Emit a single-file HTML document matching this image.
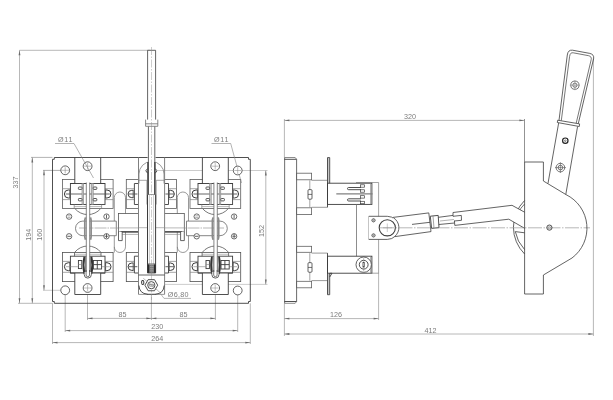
<!DOCTYPE html>
<html lang="en"><head><meta charset="utf-8"><title>Drawing</title>
<style>
html,body{margin:0;padding:0;background:#fff;}
body{width:613px;height:400px;overflow:hidden;}
svg{display:block;font-family:"Liberation Sans",sans-serif;}
svg{filter:grayscale(1);}
</style></head><body>
<svg width="613" height="400" viewBox="0 0 613 400">
<rect x="0" y="0" width="613" height="400" fill="#fff"/>
<line x1="19.50" y1="50.30" x2="150.00" y2="50.30" stroke="#8c8c8c" stroke-width="0.62" />
<line x1="19.50" y1="50.30" x2="19.50" y2="303.30" stroke="#8c8c8c" stroke-width="0.62" />
<path d="M19.50 50.30 L18.60 55.30 L20.40 55.30 Z" fill="#6a6a6a" stroke="none"/>
<path d="M19.50 303.30 L18.60 298.30 L20.40 298.30 Z" fill="#6a6a6a" stroke="none"/>
<line x1="32.30" y1="157.50" x2="32.30" y2="303.30" stroke="#8c8c8c" stroke-width="0.62" />
<path d="M32.30 157.50 L31.40 162.50 L33.20 162.50 Z" fill="#6a6a6a" stroke="none"/>
<path d="M32.30 303.30 L31.40 298.30 L33.20 298.30 Z" fill="#6a6a6a" stroke="none"/>
<line x1="18.00" y1="303.30" x2="52.50" y2="303.30" stroke="#8c8c8c" stroke-width="0.62" />
<line x1="31.00" y1="157.40" x2="52.50" y2="157.40" stroke="#808080" stroke-width="0.6" />
<line x1="44.00" y1="170.30" x2="44.00" y2="290.30" stroke="#8c8c8c" stroke-width="0.62" />
<path d="M44.00 170.30 L43.10 175.30 L44.90 175.30 Z" fill="#6a6a6a" stroke="none"/>
<path d="M44.00 290.30 L43.10 285.30 L44.90 285.30 Z" fill="#6a6a6a" stroke="none"/>
<line x1="43.00" y1="170.40" x2="61.00" y2="170.40" stroke="#777" stroke-width="0.6" />
<line x1="43.00" y1="290.30" x2="61.00" y2="290.30" stroke="#8c8c8c" stroke-width="0.45" />
<text x="17.80" y="182.60" font-size="7.2" fill="#7c7c7c" text-anchor="middle" transform="rotate(-90 17.80 182.60)">337</text>
<text x="30.80" y="234.80" font-size="7.2" fill="#7c7c7c" text-anchor="middle" transform="rotate(-90 30.80 234.80)">194</text>
<text x="42.50" y="234.80" font-size="7.2" fill="#7c7c7c" text-anchor="middle" transform="rotate(-90 42.50 234.80)">160</text>
<line x1="265.80" y1="170.50" x2="265.80" y2="284.40" stroke="#8c8c8c" stroke-width="0.62" />
<path d="M265.80 170.50 L264.90 175.50 L266.70 175.50 Z" fill="#6a6a6a" stroke="none"/>
<path d="M265.80 284.40 L264.90 279.40 L266.70 279.40 Z" fill="#6a6a6a" stroke="none"/>
<line x1="158.00" y1="170.50" x2="267.50" y2="170.50" stroke="#8c8c8c" stroke-width="0.45" />
<line x1="165.00" y1="284.40" x2="267.50" y2="284.40" stroke="#8c8c8c" stroke-width="0.45" />
<text x="264.00" y="231.00" font-size="7.2" fill="#7c7c7c" text-anchor="middle" transform="rotate(-90 264.00 231.00)">152</text>
<line x1="52.50" y1="303.30" x2="52.50" y2="344.00" stroke="#8c8c8c" stroke-width="0.62" />
<line x1="250.30" y1="303.30" x2="250.30" y2="344.00" stroke="#8c8c8c" stroke-width="0.62" />
<line x1="65.20" y1="294.00" x2="65.20" y2="332.00" stroke="#8c8c8c" stroke-width="0.62" />
<line x1="237.70" y1="294.00" x2="237.70" y2="332.00" stroke="#8c8c8c" stroke-width="0.62" />
<line x1="87.50" y1="292.00" x2="87.50" y2="320.00" stroke="#8c8c8c" stroke-width="0.62" />
<line x1="215.40" y1="292.00" x2="215.40" y2="320.00" stroke="#8c8c8c" stroke-width="0.62" />
<line x1="151.40" y1="294.40" x2="151.40" y2="320.00" stroke="#8c8c8c" stroke-width="0.62" />
<line x1="87.50" y1="318.40" x2="215.40" y2="318.40" stroke="#8c8c8c" stroke-width="0.62" />
<path d="M87.50 318.40 L92.50 317.50 L92.50 319.30 Z" fill="#6a6a6a" stroke="none"/>
<path d="M151.40 318.40 L146.40 317.50 L146.40 319.30 Z" fill="#6a6a6a" stroke="none"/>
<path d="M151.40 318.40 L156.40 317.50 L156.40 319.30 Z" fill="#6a6a6a" stroke="none"/>
<path d="M215.40 318.40 L210.40 317.50 L210.40 319.30 Z" fill="#6a6a6a" stroke="none"/>
<line x1="65.20" y1="330.60" x2="237.70" y2="330.60" stroke="#8c8c8c" stroke-width="0.62" />
<path d="M65.20 330.60 L70.20 329.70 L70.20 331.50 Z" fill="#6a6a6a" stroke="none"/>
<path d="M237.70 330.60 L232.70 329.70 L232.70 331.50 Z" fill="#6a6a6a" stroke="none"/>
<line x1="52.50" y1="342.60" x2="250.30" y2="342.60" stroke="#8c8c8c" stroke-width="0.62" />
<path d="M52.50 342.60 L57.50 341.70 L57.50 343.50 Z" fill="#6a6a6a" stroke="none"/>
<path d="M250.30 342.60 L245.30 341.70 L245.30 343.50 Z" fill="#6a6a6a" stroke="none"/>
<text x="122.40" y="317.00" font-size="7.2" fill="#7c7c7c" text-anchor="middle">85</text>
<text x="183.40" y="317.00" font-size="7.2" fill="#7c7c7c" text-anchor="middle">85</text>
<text x="157.30" y="329.20" font-size="7.2" fill="#7c7c7c" text-anchor="middle">230</text>
<text x="157.30" y="341.20" font-size="7.2" fill="#7c7c7c" text-anchor="middle">264</text>
<path d="M54.3 157.5 H248.5 V159.3 H250.3 V301.5 H248.5 V303.3 H54.3 V301.5 H52.5 V159.3 H54.3 Z" fill="none" stroke="#3c3c3c" stroke-width="0.9" stroke-linejoin="miter"/>
<path d="M114.3 252.5 V197.6 A5.6 5.6 0 0 1 125.5 197.6 V246.9 A5.6 5.6 0 0 1 114.3 246.9" fill="none" stroke="#808080" stroke-width="0.8" stroke-linejoin="round" />
<path d="M177.3 252.5 V197.6 A5.6 5.6 0 0 1 188.5 197.6 V246.9 A5.6 5.6 0 0 1 177.3 246.9" fill="none" stroke="#808080" stroke-width="0.8" stroke-linejoin="round" />
<path d="M116.3 221.1 H82.8 A7.3 7.3 0 0 0 82.8 235.7 H116.3 Z" fill="#fff" stroke="#666" stroke-width="0.8" stroke-linejoin="round" />
<path d="M186.5 221.1 H220 A7.3 7.3 0 0 1 220 235.7 H186.5 Z" fill="#fff" stroke="#666" stroke-width="0.8" stroke-linejoin="round" />
<line x1="79.00" y1="228.00" x2="224.00" y2="228.00" stroke="#999" stroke-width="0.7" stroke-dasharray="12 1 1.5 1"/>
<rect x="118.50" y="213.50" width="65.80" height="18.40" rx="0" fill="#fff" stroke="#555" stroke-width="0.8"/>
<line x1="118.50" y1="227.90" x2="184.30" y2="227.90" stroke="#8c8c8c" stroke-width="0.62" />
<line x1="122.20" y1="234.40" x2="180.60" y2="234.40" stroke="#808080" stroke-width="0.6" />
<line x1="120.60" y1="231.90" x2="182.20" y2="231.90" stroke="#3c3c3c" stroke-width="1.3" />
<path d="M118.5 231.9 V240.6 H122.2 V231.9" fill="#fff" stroke="#3c3c3c" stroke-width="0.8" stroke-linejoin="round" />
<path d="M184.3 231.9 V240.6 H180.6 V231.9" fill="#fff" stroke="#3c3c3c" stroke-width="0.8" stroke-linejoin="round" />
<circle cx="69.10" cy="216.60" r="2.70" fill="#fff" stroke="#5a5a5a" stroke-width="0.9"/>
<circle cx="69.10" cy="236.30" r="2.70" fill="#fff" stroke="#5a5a5a" stroke-width="0.9"/>
<circle cx="106.50" cy="216.60" r="2.70" fill="#fff" stroke="#5a5a5a" stroke-width="0.9"/>
<circle cx="106.50" cy="236.30" r="2.70" fill="#fff" stroke="#5a5a5a" stroke-width="0.9"/>
<line x1="67.30" y1="236.30" x2="70.90" y2="236.30" stroke="#3c3c3c" stroke-width="0.8" />
<line x1="67.60" y1="215.80" x2="70.60" y2="215.80" stroke="#808080" stroke-width="0.6" />
<line x1="67.60" y1="217.40" x2="70.60" y2="217.40" stroke="#808080" stroke-width="0.6" />
<line x1="106.50" y1="214.70" x2="106.50" y2="218.50" stroke="#3c3c3c" stroke-width="0.8" />
<line x1="106.50" y1="233.80" x2="106.50" y2="238.10" stroke="#3c3c3c" stroke-width="0.8" />
<line x1="104.70" y1="236.30" x2="108.30" y2="236.30" stroke="#3c3c3c" stroke-width="0.7" />
<path d="M74.85 208.5 A16.8 16.8 0 0 0 100.75 208.5" fill="none" stroke="#555" stroke-width="0.8" stroke-linejoin="round" />
<rect x="62.40" y="179.50" width="50.70" height="29.00" rx="0" fill="#fff" stroke="#5c5c5c" stroke-width="0.8"/>
<line x1="62.40" y1="188.70" x2="70.40" y2="188.70" stroke="#808080" stroke-width="0.7" />
<line x1="105.00" y1="188.70" x2="113.10" y2="188.70" stroke="#808080" stroke-width="0.7" />
<line x1="62.40" y1="199.60" x2="70.40" y2="199.60" stroke="#808080" stroke-width="0.7" />
<line x1="105.00" y1="199.60" x2="113.10" y2="199.60" stroke="#808080" stroke-width="0.7" />
<path d="M70.20 190.0 H68.40 A4 4 0 0 0 68.40 198.0 H70.20" fill="#fff" stroke="#3c3c3c" stroke-width="1.0" stroke-linejoin="round" />
<path d="M105.20 190.0 H107.00 A4 4 0 0 1 107.00 198.0 H105.20" fill="#fff" stroke="#3c3c3c" stroke-width="1.0" stroke-linejoin="round" />
<line x1="69.80" y1="190.20" x2="69.80" y2="197.80" stroke="#3c3c3c" stroke-width="0.8" />
<line x1="105.60" y1="190.20" x2="105.60" y2="197.80" stroke="#3c3c3c" stroke-width="0.8" />
<rect x="70.40" y="183.50" width="34.60" height="21.00" rx="0" fill="#fff" stroke="#3c3c3c" stroke-width="0.9"/>
<line x1="65.80" y1="194.00" x2="109.80" y2="194.00" stroke="#555" stroke-width="0.9" />
<path d="M74.61 252.4 A16.8 16.8 0 0 1 100.99 252.4" fill="none" stroke="#555" stroke-width="0.8" stroke-linejoin="round" />
<rect x="62.40" y="252.40" width="50.70" height="29.20" rx="0" fill="#fff" stroke="#505050" stroke-width="0.8"/>
<line x1="62.40" y1="261.40" x2="70.40" y2="261.40" stroke="#808080" stroke-width="0.7" />
<line x1="105.00" y1="261.40" x2="113.10" y2="261.40" stroke="#808080" stroke-width="0.7" />
<line x1="62.40" y1="272.30" x2="70.40" y2="272.30" stroke="#808080" stroke-width="0.7" />
<line x1="105.00" y1="272.30" x2="113.10" y2="272.30" stroke="#808080" stroke-width="0.7" />
<path d="M70.20 262.7 H68.40 A4 4 0 0 0 68.40 270.7 H70.20" fill="#fff" stroke="#3c3c3c" stroke-width="1.0" stroke-linejoin="round" />
<path d="M105.20 262.7 H107.00 A4 4 0 0 1 107.00 270.7 H105.20" fill="#fff" stroke="#3c3c3c" stroke-width="1.0" stroke-linejoin="round" />
<line x1="69.80" y1="262.90" x2="69.80" y2="270.50" stroke="#3c3c3c" stroke-width="0.8" />
<line x1="105.60" y1="262.90" x2="105.60" y2="270.50" stroke="#3c3c3c" stroke-width="0.8" />
<rect x="70.40" y="256.20" width="34.60" height="16.80" rx="0" fill="#fff" stroke="#3c3c3c" stroke-width="0.9"/>
<line x1="65.80" y1="266.70" x2="77.80" y2="266.70" stroke="#808080" stroke-width="0.6" />
<line x1="101.80" y1="266.70" x2="109.80" y2="266.70" stroke="#808080" stroke-width="0.6" />
<rect x="74.8" y="158" width="25.9" height="25.5" fill="#fff"/>
<rect x="74.8" y="273" width="25.9" height="21.5" fill="#fff"/>
<path d="M74.8 183.5 V157.5 M100.7 157.5 V183.5" fill="none" stroke="#3c3c3c" stroke-width="0.9" stroke-linejoin="round" />
<path d="M74.8 273 V294.5 H100.7 V273" fill="none" stroke="#3c3c3c" stroke-width="0.9" stroke-linejoin="round" />
<line x1="70.40" y1="183.50" x2="105.00" y2="183.50" stroke="#3c3c3c" stroke-width="0.9" />
<line x1="70.40" y1="273.00" x2="105.00" y2="273.00" stroke="#3c3c3c" stroke-width="0.9" />
<circle cx="87.60" cy="166.20" r="4.40" fill="#fff" stroke="#3c3c3c" stroke-width="0.8"/>
<line x1="84.20" y1="166.20" x2="91.00" y2="166.20" stroke="#808080" stroke-width="0.5" />
<line x1="87.60" y1="162.80" x2="87.60" y2="169.60" stroke="#808080" stroke-width="0.5" />
<circle cx="87.60" cy="288.00" r="4.40" fill="#fff" stroke="#3c3c3c" stroke-width="0.8"/>
<line x1="84.20" y1="288.00" x2="91.00" y2="288.00" stroke="#808080" stroke-width="0.5" />
<line x1="87.60" y1="284.60" x2="87.60" y2="291.40" stroke="#808080" stroke-width="0.5" />
<line x1="74.20" y1="204.50" x2="74.20" y2="208.50" stroke="#808080" stroke-width="0.7" />
<line x1="101.60" y1="204.50" x2="101.60" y2="208.50" stroke="#808080" stroke-width="0.7" />
<line x1="74.20" y1="206.60" x2="101.60" y2="206.60" stroke="#8c8c8c" stroke-width="0.62" />
<line x1="74.50" y1="254.30" x2="101.00" y2="254.30" stroke="#808080" stroke-width="0.5" />
<line x1="74.50" y1="252.50" x2="74.50" y2="256.20" stroke="#555" stroke-width="0.8" />
<line x1="101.00" y1="252.50" x2="101.00" y2="256.20" stroke="#555" stroke-width="0.8" />
<rect x="82.00" y="183.50" width="1.60" height="21.00" rx="0" fill="#c8c8c8" stroke="#808080" stroke-width="0.6"/>
<rect x="91.60" y="183.50" width="1.60" height="21.00" rx="0" fill="#c8c8c8" stroke="#808080" stroke-width="0.6"/>
<rect x="78.40" y="187.00" width="3.60" height="2.40" rx="0.7" fill="#fff" stroke="#444" stroke-width="0.9"/>
<rect x="93.20" y="187.00" width="3.60" height="2.40" rx="0.7" fill="#fff" stroke="#444" stroke-width="0.9"/>
<rect x="78.40" y="198.50" width="3.60" height="2.40" rx="0.7" fill="#fff" stroke="#444" stroke-width="0.9"/>
<rect x="93.20" y="198.50" width="3.60" height="2.40" rx="0.7" fill="#fff" stroke="#444" stroke-width="0.9"/>
<rect x="86.3" y="182" width="3.4" height="92" fill="#fff"/>
<path d="M86.3 182.5 V274 M89.7 182.5 V274" fill="none" stroke="#666" stroke-width="0.8" stroke-linejoin="round" />
<path d="M85.5 217.4 L84.8 220 V237 L85.5 239.8 M90.5 217.4 L91.1 220 V237 L90.5 239.8" fill="none" stroke="#8a8a8a" stroke-width="1.7" stroke-linejoin="round" />
<path d="M84.39999999999999 256.6 Q82.6 265 84.39999999999999 273.6 M91.39999999999999 256.6 Q93.2 265 91.39999999999999 273.6" fill="none" stroke="#333" stroke-width="1.9" stroke-linejoin="round" />
<path d="M85.39999999999999 257 V273.5 M90.39999999999999 257 V273.5" fill="none" stroke="#777" stroke-width="1.0" stroke-linejoin="round" />
<path d="M84.2 272 V274.5 A3.6 3.6 0 0 0 91.39999999999999 274.5 V272" fill="#fff" stroke="#3c3c3c" stroke-width="0.8" stroke-linejoin="round" />
<path d="M86.1 270 V275 A1.7 1.7 0 0 0 89.5 275 V270" fill="none" stroke="#3c3c3c" stroke-width="0.7" stroke-linejoin="round" />
<rect x="78.40" y="260.50" width="3.40" height="8.10" rx="0" fill="#fff" stroke="#3c3c3c" stroke-width="0.9"/>
<line x1="78.40" y1="264.50" x2="81.80" y2="264.50" stroke="#808080" stroke-width="0.6" />
<rect x="93.40" y="260.50" width="8.20" height="8.50" rx="0" fill="#fff" stroke="#3c3c3c" stroke-width="0.9"/>
<line x1="97.30" y1="260.50" x2="97.30" y2="269.00" stroke="#3c3c3c" stroke-width="0.9" />
<line x1="93.40" y1="264.60" x2="101.60" y2="264.60" stroke="#3c3c3c" stroke-width="0.9" />
<circle cx="196.70" cy="216.60" r="2.70" fill="#fff" stroke="#5a5a5a" stroke-width="0.9"/>
<circle cx="196.70" cy="236.30" r="2.70" fill="#fff" stroke="#5a5a5a" stroke-width="0.9"/>
<circle cx="234.10" cy="216.60" r="2.70" fill="#fff" stroke="#5a5a5a" stroke-width="0.9"/>
<circle cx="234.10" cy="236.30" r="2.70" fill="#fff" stroke="#5a5a5a" stroke-width="0.9"/>
<line x1="194.90" y1="236.30" x2="198.50" y2="236.30" stroke="#3c3c3c" stroke-width="0.8" />
<line x1="195.20" y1="215.80" x2="198.20" y2="215.80" stroke="#808080" stroke-width="0.6" />
<line x1="195.20" y1="217.40" x2="198.20" y2="217.40" stroke="#808080" stroke-width="0.6" />
<line x1="234.10" y1="214.70" x2="234.10" y2="218.50" stroke="#3c3c3c" stroke-width="0.8" />
<line x1="234.10" y1="233.80" x2="234.10" y2="238.10" stroke="#3c3c3c" stroke-width="0.8" />
<line x1="232.30" y1="236.30" x2="235.90" y2="236.30" stroke="#3c3c3c" stroke-width="0.7" />
<path d="M202.45 208.5 A16.8 16.8 0 0 0 228.35 208.5" fill="none" stroke="#555" stroke-width="0.8" stroke-linejoin="round" />
<rect x="190.00" y="179.50" width="50.70" height="29.00" rx="0" fill="#fff" stroke="#5c5c5c" stroke-width="0.8"/>
<line x1="190.00" y1="188.70" x2="198.00" y2="188.70" stroke="#808080" stroke-width="0.7" />
<line x1="232.60" y1="188.70" x2="240.70" y2="188.70" stroke="#808080" stroke-width="0.7" />
<line x1="190.00" y1="199.60" x2="198.00" y2="199.60" stroke="#808080" stroke-width="0.7" />
<line x1="232.60" y1="199.60" x2="240.70" y2="199.60" stroke="#808080" stroke-width="0.7" />
<path d="M197.80 190.0 H196.00 A4 4 0 0 0 196.00 198.0 H197.80" fill="#fff" stroke="#3c3c3c" stroke-width="1.0" stroke-linejoin="round" />
<path d="M232.80 190.0 H234.60 A4 4 0 0 1 234.60 198.0 H232.80" fill="#fff" stroke="#3c3c3c" stroke-width="1.0" stroke-linejoin="round" />
<line x1="197.40" y1="190.20" x2="197.40" y2="197.80" stroke="#3c3c3c" stroke-width="0.8" />
<line x1="233.20" y1="190.20" x2="233.20" y2="197.80" stroke="#3c3c3c" stroke-width="0.8" />
<rect x="198.00" y="183.50" width="34.60" height="21.00" rx="0" fill="#fff" stroke="#3c3c3c" stroke-width="0.9"/>
<line x1="193.40" y1="194.00" x2="237.40" y2="194.00" stroke="#555" stroke-width="0.9" />
<path d="M202.21 252.4 A16.8 16.8 0 0 1 228.59 252.4" fill="none" stroke="#555" stroke-width="0.8" stroke-linejoin="round" />
<rect x="190.00" y="252.40" width="50.70" height="29.20" rx="0" fill="#fff" stroke="#505050" stroke-width="0.8"/>
<line x1="190.00" y1="261.40" x2="198.00" y2="261.40" stroke="#808080" stroke-width="0.7" />
<line x1="232.60" y1="261.40" x2="240.70" y2="261.40" stroke="#808080" stroke-width="0.7" />
<line x1="190.00" y1="272.30" x2="198.00" y2="272.30" stroke="#808080" stroke-width="0.7" />
<line x1="232.60" y1="272.30" x2="240.70" y2="272.30" stroke="#808080" stroke-width="0.7" />
<path d="M197.80 262.7 H196.00 A4 4 0 0 0 196.00 270.7 H197.80" fill="#fff" stroke="#3c3c3c" stroke-width="1.0" stroke-linejoin="round" />
<path d="M232.80 262.7 H234.60 A4 4 0 0 1 234.60 270.7 H232.80" fill="#fff" stroke="#3c3c3c" stroke-width="1.0" stroke-linejoin="round" />
<line x1="197.40" y1="262.90" x2="197.40" y2="270.50" stroke="#3c3c3c" stroke-width="0.8" />
<line x1="233.20" y1="262.90" x2="233.20" y2="270.50" stroke="#3c3c3c" stroke-width="0.8" />
<rect x="198.00" y="256.20" width="34.60" height="16.80" rx="0" fill="#fff" stroke="#3c3c3c" stroke-width="0.9"/>
<line x1="193.40" y1="266.70" x2="205.40" y2="266.70" stroke="#808080" stroke-width="0.6" />
<line x1="229.40" y1="266.70" x2="237.40" y2="266.70" stroke="#808080" stroke-width="0.6" />
<rect x="202.4" y="158" width="25.9" height="25.5" fill="#fff"/>
<rect x="202.4" y="273" width="25.9" height="21.5" fill="#fff"/>
<path d="M202.4 183.5 V157.5 M228.3 157.5 V183.5" fill="none" stroke="#3c3c3c" stroke-width="0.9" stroke-linejoin="round" />
<path d="M202.4 273 V294.5 H228.3 V273" fill="none" stroke="#3c3c3c" stroke-width="0.9" stroke-linejoin="round" />
<line x1="198.00" y1="183.50" x2="232.60" y2="183.50" stroke="#3c3c3c" stroke-width="0.9" />
<line x1="198.00" y1="273.00" x2="232.60" y2="273.00" stroke="#3c3c3c" stroke-width="0.9" />
<circle cx="215.20" cy="166.20" r="4.40" fill="#fff" stroke="#3c3c3c" stroke-width="0.8"/>
<line x1="211.80" y1="166.20" x2="218.60" y2="166.20" stroke="#808080" stroke-width="0.5" />
<line x1="215.20" y1="162.80" x2="215.20" y2="169.60" stroke="#808080" stroke-width="0.5" />
<circle cx="215.20" cy="288.00" r="4.40" fill="#fff" stroke="#3c3c3c" stroke-width="0.8"/>
<line x1="211.80" y1="288.00" x2="218.60" y2="288.00" stroke="#808080" stroke-width="0.5" />
<line x1="215.20" y1="284.60" x2="215.20" y2="291.40" stroke="#808080" stroke-width="0.5" />
<line x1="201.80" y1="204.50" x2="201.80" y2="208.50" stroke="#808080" stroke-width="0.7" />
<line x1="229.20" y1="204.50" x2="229.20" y2="208.50" stroke="#808080" stroke-width="0.7" />
<line x1="201.80" y1="206.60" x2="229.20" y2="206.60" stroke="#8c8c8c" stroke-width="0.62" />
<line x1="202.10" y1="254.30" x2="228.60" y2="254.30" stroke="#808080" stroke-width="0.5" />
<line x1="202.10" y1="252.50" x2="202.10" y2="256.20" stroke="#555" stroke-width="0.8" />
<line x1="228.60" y1="252.50" x2="228.60" y2="256.20" stroke="#555" stroke-width="0.8" />
<rect x="209.60" y="183.50" width="1.60" height="21.00" rx="0" fill="#c8c8c8" stroke="#808080" stroke-width="0.6"/>
<rect x="219.20" y="183.50" width="1.60" height="21.00" rx="0" fill="#c8c8c8" stroke="#808080" stroke-width="0.6"/>
<rect x="206.00" y="187.00" width="3.60" height="2.40" rx="0.7" fill="#fff" stroke="#444" stroke-width="0.9"/>
<rect x="220.80" y="187.00" width="3.60" height="2.40" rx="0.7" fill="#fff" stroke="#444" stroke-width="0.9"/>
<rect x="206.00" y="198.50" width="3.60" height="2.40" rx="0.7" fill="#fff" stroke="#444" stroke-width="0.9"/>
<rect x="220.80" y="198.50" width="3.60" height="2.40" rx="0.7" fill="#fff" stroke="#444" stroke-width="0.9"/>
<rect x="213.9" y="182" width="3.4" height="92" fill="#fff"/>
<path d="M213.9 182.5 V274 M217.3 182.5 V274" fill="none" stroke="#666" stroke-width="0.8" stroke-linejoin="round" />
<path d="M213.1 217.4 L212.4 220 V237 L213.1 239.8 M218.1 217.4 L218.70000000000002 220 V237 L218.1 239.8" fill="none" stroke="#8a8a8a" stroke-width="1.7" stroke-linejoin="round" />
<path d="M212.0 256.6 Q210.20000000000002 265 212.0 273.6 M219.0 256.6 Q220.8 265 219.0 273.6" fill="none" stroke="#333" stroke-width="1.9" stroke-linejoin="round" />
<path d="M213.0 257 V273.5 M218.0 257 V273.5" fill="none" stroke="#777" stroke-width="1.0" stroke-linejoin="round" />
<path d="M211.8 272 V274.5 A3.6 3.6 0 0 0 219.0 274.5 V272" fill="#fff" stroke="#3c3c3c" stroke-width="0.8" stroke-linejoin="round" />
<path d="M213.70000000000002 270 V275 A1.7 1.7 0 0 0 217.1 275 V270" fill="none" stroke="#3c3c3c" stroke-width="0.7" stroke-linejoin="round" />
<rect x="206.00" y="260.50" width="3.40" height="8.10" rx="0" fill="#fff" stroke="#3c3c3c" stroke-width="0.9"/>
<line x1="206.00" y1="264.50" x2="209.40" y2="264.50" stroke="#808080" stroke-width="0.6" />
<rect x="221.00" y="260.50" width="8.20" height="8.50" rx="0" fill="#fff" stroke="#3c3c3c" stroke-width="0.9"/>
<line x1="224.90" y1="260.50" x2="224.90" y2="269.00" stroke="#3c3c3c" stroke-width="0.9" />
<line x1="221.00" y1="264.60" x2="229.20" y2="264.60" stroke="#3c3c3c" stroke-width="0.9" />
<rect x="126.30" y="179.50" width="50.20" height="29.00" rx="0" fill="#fff" stroke="#5c5c5c" stroke-width="0.8"/>
<line x1="126.00" y1="188.70" x2="134.00" y2="188.70" stroke="#808080" stroke-width="0.7" />
<line x1="168.60" y1="188.70" x2="176.70" y2="188.70" stroke="#808080" stroke-width="0.7" />
<line x1="126.00" y1="199.60" x2="134.00" y2="199.60" stroke="#808080" stroke-width="0.7" />
<line x1="168.60" y1="199.60" x2="176.70" y2="199.60" stroke="#808080" stroke-width="0.7" />
<path d="M133.60 190.3 H131.80 A3.7 3.7 0 0 0 131.80 197.7 H133.60" fill="#fff" stroke="#3c3c3c" stroke-width="1.0" stroke-linejoin="round" />
<path d="M168.80 190.3 H170.60 A3.7 3.7 0 0 1 170.60 197.7 H168.80" fill="#fff" stroke="#3c3c3c" stroke-width="1.0" stroke-linejoin="round" />
<line x1="133.20" y1="190.50" x2="133.20" y2="197.50" stroke="#3c3c3c" stroke-width="0.8" />
<line x1="169.20" y1="190.50" x2="169.20" y2="197.50" stroke="#3c3c3c" stroke-width="0.8" />
<path d="M138.4 183.5 H134.4 V204.5 H138.4" fill="#fff" stroke="#3c3c3c" stroke-width="0.9" stroke-linejoin="round" />
<path d="M164.6 183.5 H168.5 V204.5 H164.6" fill="#fff" stroke="#3c3c3c" stroke-width="0.9" stroke-linejoin="round" />
<line x1="128.40" y1="194.00" x2="137.40" y2="194.00" stroke="#555" stroke-width="0.9" />
<line x1="165.40" y1="194.00" x2="174.40" y2="194.00" stroke="#555" stroke-width="0.9" />
<rect x="126.30" y="252.40" width="50.20" height="29.20" rx="0" fill="#fff" stroke="#505050" stroke-width="0.8"/>
<line x1="126.00" y1="261.40" x2="134.00" y2="261.40" stroke="#808080" stroke-width="0.7" />
<line x1="168.60" y1="261.40" x2="176.70" y2="261.40" stroke="#808080" stroke-width="0.7" />
<line x1="126.00" y1="272.30" x2="134.00" y2="272.30" stroke="#808080" stroke-width="0.7" />
<line x1="168.60" y1="272.30" x2="176.70" y2="272.30" stroke="#808080" stroke-width="0.7" />
<path d="M133.60 263.0 H131.80 A3.7 3.7 0 0 0 131.80 270.4 H133.60" fill="#fff" stroke="#3c3c3c" stroke-width="1.0" stroke-linejoin="round" />
<path d="M168.80 263.0 H170.60 A3.7 3.7 0 0 1 170.60 270.4 H168.80" fill="#fff" stroke="#3c3c3c" stroke-width="1.0" stroke-linejoin="round" />
<line x1="133.20" y1="263.20" x2="133.20" y2="270.20" stroke="#3c3c3c" stroke-width="0.8" />
<line x1="169.20" y1="263.20" x2="169.20" y2="270.20" stroke="#3c3c3c" stroke-width="0.8" />
<path d="M138.4 256.2 H134.4 V273.0 H138.4" fill="#fff" stroke="#3c3c3c" stroke-width="0.9" stroke-linejoin="round" />
<path d="M164.6 256.2 H168.5 V273.0 H164.6" fill="#fff" stroke="#3c3c3c" stroke-width="0.9" stroke-linejoin="round" />
<line x1="128.40" y1="266.70" x2="137.40" y2="266.70" stroke="#555" stroke-width="0.9" />
<line x1="165.40" y1="266.70" x2="174.40" y2="266.70" stroke="#555" stroke-width="0.9" />
<rect x="138.5" y="176" width="26.1" height="118" fill="#fff"/>
<path d="M138.5 157.5 V294.4 M164.6 157.5 V294.4" fill="none" stroke="#808080" stroke-width="1.0" stroke-linejoin="round" />
<line x1="138.50" y1="180.30" x2="146.90" y2="180.30" stroke="#808080" stroke-width="0.7" />
<line x1="156.20" y1="180.30" x2="164.60" y2="180.30" stroke="#808080" stroke-width="0.7" />
<line x1="146.90" y1="180.30" x2="146.90" y2="204.50" stroke="#808080" stroke-width="0.7" />
<line x1="156.20" y1="180.30" x2="156.20" y2="204.50" stroke="#808080" stroke-width="0.7" />
<line x1="138.50" y1="227.70" x2="164.60" y2="227.70" stroke="#8c8c8c" stroke-width="0.62" />
<path d="M139 183.5 V174 A12.5 12.5 0 0 1 164 174 V183.5" fill="none" stroke="#808080" stroke-width="0.8" stroke-linejoin="round" />
<line x1="138.50" y1="275.00" x2="164.60" y2="275.00" stroke="#3c3c3c" stroke-width="0.8" />
<path d="M138.5 294.4 H164.6" fill="none" stroke="#808080" stroke-width="0.8" stroke-linejoin="round" />
<path d="M138.9 285.5 Q139.4 293.6 147.5 294.2 M164.2 285.5 Q163.7 293.6 155.6 294.2" fill="none" stroke="#3c3c3c" stroke-width="0.9" stroke-linejoin="round" />
<line x1="147.00" y1="294.30" x2="156.00" y2="294.30" stroke="#3c3c3c" stroke-width="0.8" />
<rect x="147.5" y="194.4" width="8.1" height="70" fill="#fff"/>
<path d="M147.5 194.4 V273 M155.6 194.4 V273" fill="none" stroke="#3c3c3c" stroke-width="1.0" stroke-linejoin="round" />
<line x1="147.50" y1="194.40" x2="155.60" y2="194.40" stroke="#3c3c3c" stroke-width="0.8" />
<line x1="149.40" y1="194.40" x2="149.40" y2="264.00" stroke="#8c8c8c" stroke-width="0.45" />
<line x1="153.60" y1="194.40" x2="153.60" y2="264.00" stroke="#8c8c8c" stroke-width="0.45" />
<line x1="147.50" y1="264.00" x2="155.60" y2="264.00" stroke="#3c3c3c" stroke-width="0.8" />
<rect x="147.8" y="264.4" width="7.5" height="8.6" fill="#9a9a9a"/>
<rect x="147.4" y="264.4" width="2" height="8.6" fill="#2a2a2a"/>
<rect x="153.8" y="264.4" width="2" height="8.6" fill="#2a2a2a"/>
<line x1="149.40" y1="265.40" x2="153.80" y2="265.40" stroke="#666" stroke-width="0.7" />
<line x1="149.40" y1="267.60" x2="153.80" y2="267.60" stroke="#666" stroke-width="0.7" />
<line x1="149.40" y1="269.80" x2="153.80" y2="269.80" stroke="#666" stroke-width="0.7" />
<line x1="149.40" y1="272.00" x2="153.80" y2="272.00" stroke="#666" stroke-width="0.7" />
<line x1="147.50" y1="273.00" x2="155.60" y2="273.00" stroke="#3c3c3c" stroke-width="0.8" />
<rect x="147.6" y="50.3" width="8" height="144" fill="#fff"/>
<path d="M147.6 123.8 V50.3 H155.6 V123.8" fill="none" stroke="#3c3c3c" stroke-width="0.8" stroke-linejoin="round" />
<path d="M145.6 119.6 V126.3 H157.8 V119.6" fill="#fff" stroke="#6a6a6a" stroke-width="0.8" stroke-linejoin="round" />
<line x1="145.60" y1="123.80" x2="157.80" y2="123.80" stroke="#6a6a6a" stroke-width="0.8" />
<path d="M148.4 126.6 V194.4 M154.8 126.6 V194.4" fill="none" stroke="#3c3c3c" stroke-width="0.8" stroke-linejoin="round" />
<line x1="151.50" y1="47.00" x2="151.50" y2="300.00" stroke="#8c8c8c" stroke-width="0.45" stroke-dasharray="8 1.5 1.5 1.5"/>
<path d="M147.9 162 V194.4 M154.9 162 V194.4" fill="none" stroke="#3c3c3c" stroke-width="1.3" stroke-linejoin="round" />
<path d="M147.6 168.6 L145.8 170.8 L147.6 173.2 M155.2 168.6 L157.1 170.8 L155.2 173.2" fill="none" stroke="#3c3c3c" stroke-width="0.9" stroke-linejoin="round" />
<path d="M157.70 285.20 L154.50 290.74 L148.10 290.74 L144.90 285.20 L148.10 279.66 L154.50 279.66 Z" fill="#fff" stroke="#3c3c3c" stroke-width="0.9" stroke-linejoin="round" />
<circle cx="151.30" cy="285.20" r="3.60" fill="none" stroke="#3c3c3c" stroke-width="0.9"/>
<rect x="149.10" y="284.30" width="4.40" height="1.80" rx="0.8" fill="none" stroke="#3c3c3c" stroke-width="0.6"/>
<text font-weight="bold" x="142.70" y="284.90" font-size="6.4" fill="#111" text-anchor="middle">0</text>
<path d="M143.3 278.3 L158.5 291 L164 298.4 H191" fill="none" stroke="#8c8c8c" stroke-width="0.62" stroke-linejoin="round" />
<text letter-spacing="0.3" x="178.30" y="296.60" font-size="7.2" fill="#7c7c7c" text-anchor="middle">Ø6,80</text>
<path d="M55 143.5 H74 L93.5 178" fill="none" stroke="#808080" stroke-width="0.6" stroke-linejoin="round" />
<text letter-spacing="0.7" x="65.50" y="142.30" font-size="7.2" fill="#7c7c7c" text-anchor="middle">Ø11</text>
<path d="M211.5 143.5 H230.7 L241.5 183" fill="none" stroke="#808080" stroke-width="0.6" stroke-linejoin="round" />
<text letter-spacing="0.7" x="221.60" y="142.30" font-size="7.2" fill="#7c7c7c" text-anchor="middle">Ø11</text>
<circle cx="65.20" cy="170.30" r="4.40" fill="#fff" stroke="#3c3c3c" stroke-width="0.8"/>
<circle cx="65.20" cy="290.30" r="4.40" fill="#fff" stroke="#3c3c3c" stroke-width="0.8"/>
<circle cx="237.70" cy="170.50" r="4.40" fill="#fff" stroke="#3c3c3c" stroke-width="0.8"/>
<line x1="234.30" y1="170.50" x2="241.10" y2="170.50" stroke="#808080" stroke-width="0.5" />
<line x1="237.70" y1="167.10" x2="237.70" y2="173.90" stroke="#808080" stroke-width="0.5" />
<circle cx="237.70" cy="290.50" r="4.40" fill="#fff" stroke="#3c3c3c" stroke-width="0.8"/>
<line x1="65.20" y1="167.30" x2="65.20" y2="173.30" stroke="#8c8c8c" stroke-width="0.62" />
<line x1="61.50" y1="170.30" x2="69.00" y2="170.30" stroke="#808080" stroke-width="0.5" />
<line x1="284.40" y1="120.40" x2="524.40" y2="120.40" stroke="#8c8c8c" stroke-width="0.62" />
<path d="M284.40 120.40 L289.40 119.50 L289.40 121.30 Z" fill="#6a6a6a" stroke="none"/>
<path d="M524.40 120.40 L519.40 119.50 L519.40 121.30 Z" fill="#6a6a6a" stroke="none"/>
<line x1="284.40" y1="119.00" x2="284.40" y2="157.50" stroke="#8c8c8c" stroke-width="0.62" />
<line x1="524.50" y1="119.00" x2="524.50" y2="162.00" stroke="#777" stroke-width="0.8" />
<text x="410.00" y="118.90" font-size="7.2" fill="#7c7c7c" text-anchor="middle">320</text>
<line x1="284.40" y1="303.30" x2="284.40" y2="336.00" stroke="#8c8c8c" stroke-width="0.62" />
<line x1="284.40" y1="318.60" x2="378.60" y2="318.60" stroke="#8c8c8c" stroke-width="0.62" />
<path d="M284.40 318.60 L289.40 317.70 L289.40 319.50 Z" fill="#6a6a6a" stroke="none"/>
<path d="M378.60 318.60 L373.60 317.70 L373.60 319.50 Z" fill="#6a6a6a" stroke="none"/>
<text x="336.00" y="317.20" font-size="7.2" fill="#7c7c7c" text-anchor="middle">126</text>
<line x1="284.40" y1="334.00" x2="593.40" y2="334.00" stroke="#8c8c8c" stroke-width="0.62" />
<path d="M284.40 334.00 L289.40 333.10 L289.40 334.90 Z" fill="#6a6a6a" stroke="none"/>
<path d="M593.40 334.00 L588.40 333.10 L588.40 334.90 Z" fill="#6a6a6a" stroke="none"/>
<text x="430.40" y="333.00" font-size="7.2" fill="#7c7c7c" text-anchor="middle">412</text>
<line x1="593.40" y1="58.00" x2="593.40" y2="336.00" stroke="#8c8c8c" stroke-width="0.62" />
<line x1="378.60" y1="273.00" x2="378.60" y2="320.00" stroke="#8c8c8c" stroke-width="0.62" />
<path d="M356 182.5 H378.6 V273.2" fill="none" stroke="#808080" stroke-width="0.7" stroke-linejoin="round" />
<path d="M284.4 157.5 H295.2 L296.6 159.3 M296.6 301.5 L295.2 303.3 H284.4" fill="none" stroke="#707070" stroke-width="0.8" stroke-linejoin="round" />
<line x1="296.60" y1="159.30" x2="296.60" y2="301.50" stroke="#5a5a5a" stroke-width="0.9" />
<line x1="284.60" y1="157.50" x2="284.60" y2="303.30" stroke="#7a7a7a" stroke-width="1.1" />
<line x1="284.40" y1="159.30" x2="296.60" y2="159.30" stroke="#3c3c3c" stroke-width="0.9" />
<line x1="284.40" y1="301.50" x2="296.60" y2="301.50" stroke="#3c3c3c" stroke-width="0.9" />
<rect x="296.60" y="173.20" width="15.00" height="6.60" rx="0" fill="none" stroke="#606060" stroke-width="0.8"/>
<rect x="296.60" y="207.80" width="15.00" height="6.80" rx="0" fill="none" stroke="#606060" stroke-width="0.8"/>
<rect x="296.60" y="246.30" width="15.00" height="6.00" rx="0" fill="none" stroke="#606060" stroke-width="0.8"/>
<rect x="296.60" y="281.30" width="15.00" height="6.50" rx="0" fill="none" stroke="#606060" stroke-width="0.8"/>
<path d="M311.6 180.3 H327.5 M311.6 207.3 H327.5" fill="none" stroke="#808080" stroke-width="0.8" stroke-linejoin="round" />
<line x1="309.80" y1="180.30" x2="309.80" y2="207.30" stroke="#808080" stroke-width="0.7" />
<rect x="308.00" y="189.60" width="4.00" height="9.60" rx="1" fill="#fff" stroke="#3c3c3c" stroke-width="0.8"/>
<line x1="308.00" y1="194.40" x2="312.00" y2="194.40" stroke="#3c3c3c" stroke-width="0.7" />
<path d="M311.6 253.1 H327.5 M311.6 280.6 H327.5" fill="none" stroke="#808080" stroke-width="0.8" stroke-linejoin="round" />
<line x1="309.80" y1="253.10" x2="309.80" y2="280.60" stroke="#808080" stroke-width="0.7" />
<rect x="308.00" y="262.65" width="4.00" height="9.60" rx="1" fill="#fff" stroke="#3c3c3c" stroke-width="0.8"/>
<line x1="308.00" y1="267.45" x2="312.00" y2="267.45" stroke="#3c3c3c" stroke-width="0.7" />
<path d="M327.5 207.3 V157.6 H329.7 V183.3" fill="none" stroke="#3c3c3c" stroke-width="0.9" stroke-linejoin="round" />
<path d="M327.5 253.1 V294.7 H329.7 V273.3 L332 273.3 L329.7 277" fill="none" stroke="#3c3c3c" stroke-width="0.9" stroke-linejoin="round" />
<line x1="328.60" y1="158.00" x2="328.60" y2="183.00" stroke="#808080" stroke-width="0.5" />
<line x1="328.60" y1="274.00" x2="328.60" y2="294.00" stroke="#808080" stroke-width="0.5" />
<rect x="327.50" y="183.20" width="44.40" height="21.20" rx="0" fill="none" stroke="#3c3c3c" stroke-width="0.9"/>
<line x1="370.50" y1="183.20" x2="370.50" y2="204.40" stroke="#808080" stroke-width="0.6" />
<line x1="336.30" y1="193.80" x2="372.50" y2="193.80" stroke="#808080" stroke-width="1.3" />
<path d="M361 187.5 H348.6 A1.1 1.1 0 0 0 348.6 189.7 H361" fill="none" stroke="#3c3c3c" stroke-width="0.9" stroke-linejoin="round" />
<path d="M361 198.8 H348.6 A1.1 1.1 0 0 0 348.6 201.0 H361" fill="none" stroke="#3c3c3c" stroke-width="0.9" stroke-linejoin="round" />
<rect x="360.60" y="184.80" width="3.80" height="2.40" rx="0" fill="#fff" stroke="#3c3c3c" stroke-width="0.7"/>
<rect x="360.60" y="189.80" width="3.80" height="2.40" rx="0" fill="#fff" stroke="#3c3c3c" stroke-width="0.7"/>
<rect x="360.60" y="195.70" width="3.80" height="2.40" rx="0" fill="#fff" stroke="#3c3c3c" stroke-width="0.7"/>
<rect x="360.60" y="201.30" width="3.80" height="2.40" rx="0" fill="#fff" stroke="#3c3c3c" stroke-width="0.7"/>
<line x1="356.50" y1="204.40" x2="356.50" y2="256.20" stroke="#707070" stroke-width="0.8" />
<rect x="327.50" y="256.20" width="44.40" height="17.00" rx="0" fill="none" stroke="#3c3c3c" stroke-width="0.9"/>
<line x1="370.50" y1="256.20" x2="370.50" y2="273.20" stroke="#808080" stroke-width="0.6" />
<line x1="371.90" y1="273.20" x2="378.60" y2="273.20" stroke="#808080" stroke-width="0.7" />
<circle cx="363.70" cy="264.70" r="7.70" fill="#fff" stroke="#3c3c3c" stroke-width="0.8"/>
<circle cx="363.70" cy="264.70" r="4.40" fill="none" stroke="#3c3c3c" stroke-width="0.9"/>
<line x1="363.70" y1="258.00" x2="363.70" y2="271.50" stroke="#808080" stroke-width="0.5" />
<rect x="362.90" y="262.30" width="1.60" height="4.80" rx="0" fill="none" stroke="#3c3c3c" stroke-width="0.6"/>
<path d="M368.8 239.4 V216.3" fill="none" stroke="#808080" stroke-width="0.8" stroke-linejoin="round" />
<path d="M368.8 216.3 H387.3 A11.55 11.55 0 0 1 387.3 239.4 H368.8" fill="#fff" stroke="#3c3c3c" stroke-width="0.8" stroke-linejoin="round" />
<circle cx="373.50" cy="220.30" r="1.60" fill="none" stroke="#3c3c3c" stroke-width="0.8"/>
<line x1="371.50" y1="220.30" x2="375.50" y2="220.30" stroke="#808080" stroke-width="0.5" />
<line x1="373.50" y1="218.30" x2="373.50" y2="222.30" stroke="#808080" stroke-width="0.5" />
<circle cx="373.50" cy="235.40" r="1.60" fill="none" stroke="#3c3c3c" stroke-width="0.8"/>
<line x1="371.50" y1="235.40" x2="375.50" y2="235.40" stroke="#808080" stroke-width="0.5" />
<line x1="373.50" y1="233.40" x2="373.50" y2="237.40" stroke="#808080" stroke-width="0.5" />
<path d="M393 217.4 L428.8 212.9 L431 231.6 L395 236.6" fill="#fff" stroke="#3c3c3c" stroke-width="0.8" stroke-linejoin="round" />
<path d="M393.5 217.8 A11.55 11.55 0 0 1 394.8 236.4" fill="#fff" stroke="#3c3c3c" stroke-width="0.8" stroke-linejoin="round" />
<circle cx="387.30" cy="227.80" r="8.10" fill="#fff" stroke="#3c3c3c" stroke-width="1.1"/>
<line x1="383.00" y1="227.80" x2="392.00" y2="227.80" stroke="#8c8c8c" stroke-width="0.45" />
<line x1="387.30" y1="223.50" x2="387.30" y2="232.00" stroke="#8c8c8c" stroke-width="0.45" />
<line x1="412.00" y1="224.40" x2="430.00" y2="222.30" stroke="#3c3c3c" stroke-width="0.8" />
<path d="M430.3 216.2 L438.2 215.4 L439 227.6 L431.6 228.4 Z" fill="#fff" stroke="#3c3c3c" stroke-width="0.9" stroke-linejoin="round" />
<line x1="433.00" y1="216.00" x2="434.00" y2="228.20" stroke="#808080" stroke-width="0.7" />
<path d="M438.5 217.3 L453 215.4 M438.8 224.5 L454.5 223" fill="none" stroke="#3c3c3c" stroke-width="0.8" stroke-linejoin="round" />
<path d="M453 216.3 L461.3 215.4 L461.5 220.3 L454 221" fill="none" stroke="#3c3c3c" stroke-width="0.8" stroke-linejoin="round" />
<line x1="440.00" y1="221.00" x2="462.00" y2="218.60" stroke="#808080" stroke-width="0.6" />
<path d="M524.6 200.5 A37.6 37.6 0 0 0 524.6 254" fill="none" stroke="#3c3c3c" stroke-width="0.8" stroke-linejoin="round" />
<path d="M524.6 204 A34 34 0 0 0 518 213" fill="none" stroke="#3c3c3c" stroke-width="0.7" stroke-linejoin="round" />
<path d="M515.3 231.6 L524.6 232.8 M515.3 231.6 Q517 241.5 524.6 249.6" fill="none" stroke="#3c3c3c" stroke-width="0.8" stroke-linejoin="round" />
<path d="M453 216.3 V212.5 L512 205.3 L524.6 212.2 V228.3 L508.8 219.2 L454.8 225.4 L454.4 221 Z" fill="#fff" stroke="none" stroke-width="0" stroke-linejoin="round" />
<path d="M453 216.3 V212.5 L512 205.3 L524.6 212.2 M524.6 228.3 L508.8 219.2 L454.8 225.4 L454.4 221" fill="none" stroke="#3c3c3c" stroke-width="0.8" stroke-linejoin="round" />
<path d="M453 216.3 L461.3 215.4 L461.5 220.3 L454 221" fill="none" stroke="#3c3c3c" stroke-width="0.8" stroke-linejoin="round" />
<line x1="380.00" y1="227.80" x2="590.00" y2="227.80" stroke="#8c8c8c" stroke-width="0.62" stroke-dasharray="14 1.5 1.5 1.5"/>
<path d="M524.6 162 H543.4 V181 L566 194.6 A37.3 37.3 0 0 1 572 258 L543.4 275 V294 H524.6 Z" fill="none" stroke="#3c3c3c" stroke-width="0.8" stroke-linejoin="round" />
<circle cx="549.40" cy="227.60" r="2.60" fill="none" stroke="#3c3c3c" stroke-width="0.9"/>
<circle cx="549.40" cy="227.60" r="1.20" fill="none" stroke="#808080" stroke-width="0.6"/>
<path d="M548 183.4 L558.7 122.8 M565.8 194.4 L577.6 126.4" fill="none" stroke="#3c3c3c" stroke-width="0.8" stroke-linejoin="round" />
<path d="M557.7 120.2 L579.6 123.9 L579.3 126.5 L557.3 122.5 Z" fill="#fff" stroke="#3c3c3c" stroke-width="0.8" stroke-linejoin="round" />
<path d="M559 120.3 L567.3 55 Q568 49.6 572.5 50.2 L589.8 53.4 Q594.4 54.5 593.6 58.6 L578.3 123.6" fill="none" stroke="#3c3c3c" stroke-width="0.8" stroke-linejoin="round" />
<path d="M561.3 120.6 L569.6 56.4 Q570.2 52.2 573.2 52.8 L588.6 55.7 Q591.9 56.5 591.2 59.6 L576.2 123.2" fill="none" stroke="#3c3c3c" stroke-width="0.7" stroke-linejoin="round" />
<circle cx="574.90" cy="85.20" r="4.10" fill="none" stroke="#3c3c3c" stroke-width="0.7"/>
<circle cx="574.90" cy="85.20" r="2.10" fill="none" stroke="#3c3c3c" stroke-width="0.7"/>
<line x1="569.80" y1="85.20" x2="580.00" y2="85.20" stroke="#8c8c8c" stroke-width="0.62" />
<line x1="574.90" y1="80.20" x2="574.90" y2="90.20" stroke="#8c8c8c" stroke-width="0.62" />
<circle cx="565.30" cy="140.70" r="2.70" fill="none" stroke="#222" stroke-width="1.2"/>
<circle cx="565.30" cy="140.70" r="0.80" fill="none" stroke="#3c3c3c" stroke-width="0.6"/>
<circle cx="560.40" cy="167.60" r="4.30" fill="none" stroke="#3c3c3c" stroke-width="0.7"/>
<circle cx="560.40" cy="167.60" r="2.30" fill="none" stroke="#3c3c3c" stroke-width="0.7"/>
<line x1="555.00" y1="167.60" x2="566.00" y2="167.60" stroke="#555" stroke-width="0.6" />
<line x1="560.40" y1="162.30" x2="560.40" y2="173.00" stroke="#555" stroke-width="0.6" />
</svg>
</body></html>
